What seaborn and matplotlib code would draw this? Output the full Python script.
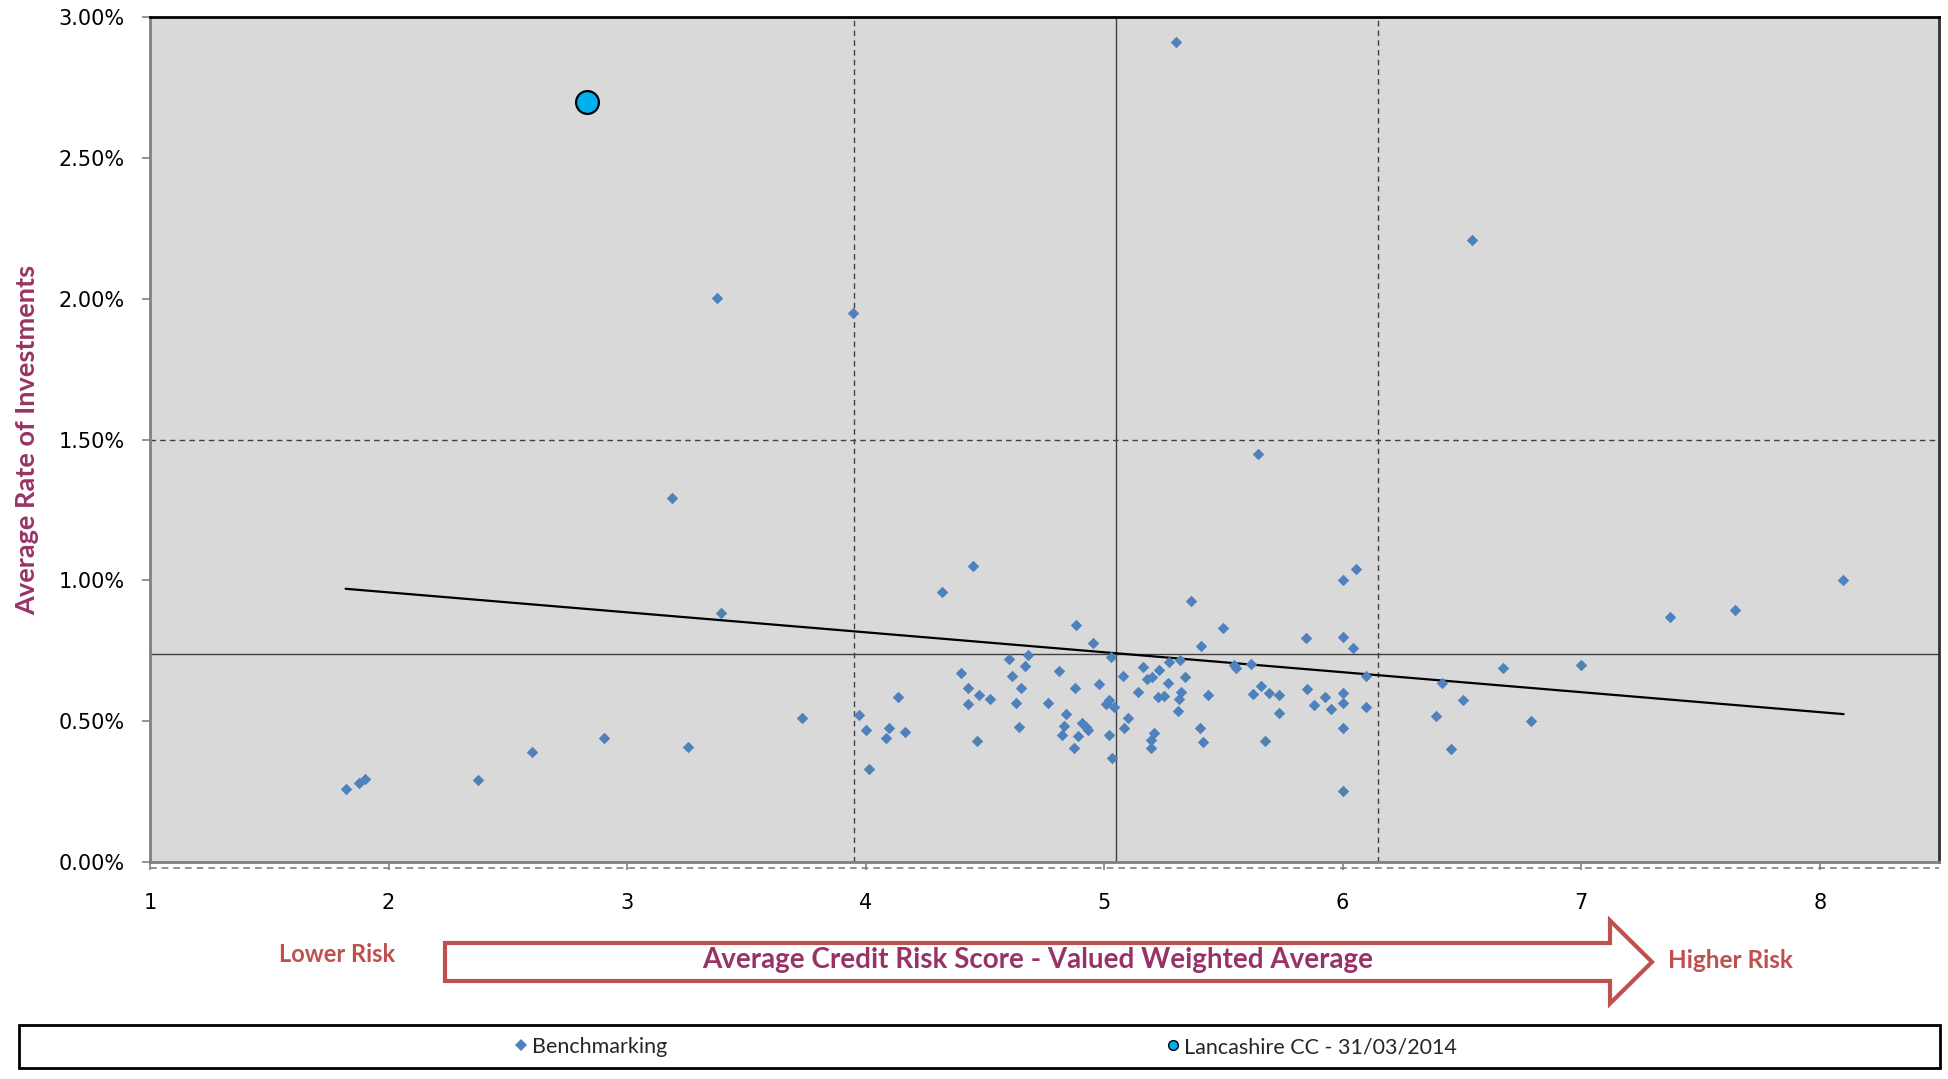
import matplotlib
matplotlib.use("Agg")
import matplotlib.pyplot as plt
import seaborn as sns
from matplotlib.patches import FancyArrow, Rectangle
from matplotlib.lines import Line2D
from matplotlib.ticker import FuncFormatter

# Benchmarking authorities: credit risk score (value weighted) vs average rate (%)
bench_score = [
    1.823, 1.875, 1.901, 2.377, 2.603, 2.904, 3.188, 3.256, 3.375, 3.393,
    3.732, 3.948, 3.971, 4.002, 4.013, 4.100, 4.086, 4.134, 4.164,
    4.449, 4.322, 4.400, 4.431, 4.431, 4.475, 4.466, 4.521, 4.603, 4.681,
    4.613, 4.670, 4.651, 4.632, 4.642, 4.765, 4.810, 4.883, 4.955, 4.877,
    4.842, 4.830, 4.825, 4.909, 4.922, 4.933, 4.892, 4.874, 4.980, 5.029,
    5.021, 5.007, 5.041, 5.022, 5.035, 5.081, 5.101, 5.082, 5.144, 5.165,
    5.179, 5.201, 5.232, 5.273, 5.320, 5.267, 5.341, 5.225, 5.253, 5.323,
    5.312, 5.310, 5.211, 5.196, 5.197, 5.366, 5.405, 5.500, 5.437, 5.402,
    5.415, 5.545, 5.552, 5.615, 5.656, 5.622, 5.692, 5.732, 5.732, 5.674,
    5.846, 5.851, 5.881, 5.925, 5.949, 6.002, 6.057, 6.002, 6.043, 6.002,
    6.002, 6.002, 6.002, 6.096, 6.096,
    6.415, 6.393, 6.505, 6.456, 6.672, 6.788, 7.000, 7.371, 7.645, 8.098,
    5.302, 6.542, 5.646,
]
bench_rate = [
    0.260, 0.282, 0.296, 0.291, 0.389, 0.440, 1.292, 0.407, 2.003, 0.883,
    0.511, 1.950, 0.521, 0.470, 0.330, 0.477, 0.442, 0.585, 0.462,
    1.051, 0.960, 0.670, 0.619, 0.561, 0.594, 0.431, 0.578, 0.721, 0.734,
    0.661, 0.696, 0.619, 0.563, 0.481, 0.563, 0.677, 0.843, 0.778, 0.619,
    0.527, 0.484, 0.450, 0.492, 0.478, 0.468, 0.447, 0.406, 0.633, 0.729,
    0.575, 0.561, 0.552, 0.450, 0.371, 0.661, 0.511, 0.475, 0.604, 0.691,
    0.649, 0.658, 0.682, 0.710, 0.717, 0.635, 0.657, 0.587, 0.591, 0.603,
    0.578, 0.536, 0.457, 0.433, 0.406, 0.928, 0.767, 0.831, 0.594, 0.475,
    0.427, 0.698, 0.690, 0.704, 0.625, 0.595, 0.601, 0.592, 0.529, 0.430,
    0.795, 0.613, 0.556, 0.587, 0.543, 1.000, 1.041, 0.800, 0.759, 0.599,
    0.565, 0.475, 0.251, 0.659, 0.549,
    0.637, 0.520, 0.574, 0.400, 0.690, 0.502, 0.701, 0.871, 0.895, 1.000,
    2.911, 2.210, 1.447,
]

# Lancashire County Council at 31/03/2014
lancs_score = [2.83]
lancs_rate = [2.70]

# Linear trend of the benchmarking group
trend_score = [1.82, 8.10]
trend_rate = [0.970, 0.525]

# Group average and one-deviation bands
score_mean = 5.05
score_band = [3.95, 6.15]
rate_mean = 0.74
rate_band = [1.50, -0.02]

x_ticks = [1, 2, 3, 4, 5, 6, 7, 8]
y_ticks = [0.0, 0.5, 1.0, 1.5, 2.0, 2.5, 3.0]

sns.set_theme(style="white")
plt.rcParams["font.family"] = ["DejaVu Sans"]
LABEL_FONT = ["Lato", "DejaVu Sans"]

W, H = 1948, 1079
fig = plt.figure(figsize=(W / 100, H / 100), dpi=100)
ax = fig.add_axes([150 / W, 1 - 862 / H, 1789 / W, 845 / H])
ax.set_facecolor("#D9D9D9")

ref_col = "#404040"
dash = (0, (4, 3))
for v in score_band:
    ax.axvline(v, color=ref_col, lw=1, ls=dash, zorder=1)
ax.axvline(score_mean, color=ref_col, lw=1, zorder=1)
ax.axhline(rate_band[0], color=ref_col, lw=1, ls=dash, zorder=1)
ax.axhline(rate_band[1], color="#808080", lw=1.2, ls=dash, zorder=1, clip_on=False)
ax.axhline(rate_mean, color=ref_col, lw=1, zorder=1)

sns.lineplot(x=trend_score, y=trend_rate, color="black", lw=1.6, ax=ax, zorder=3)
sns.scatterplot(x=bench_score, y=bench_rate, marker="D", s=34, color="#4F81BD",
                linewidth=0, ax=ax, zorder=4)
sns.scatterplot(x=lancs_score, y=lancs_rate, marker="o", s=270, color="#00B0F0",
                edgecolor="black", linewidth=1.6, ax=ax, zorder=5)

ax.set_xlim(1, 8.5)
ax.set_ylim(0, 3)
ax.set_xticks(x_ticks)
ax.set_yticks(y_ticks)
ax.yaxis.set_major_formatter(FuncFormatter(lambda v, _: f"{v:.2f}%"))
ax.tick_params(axis="both", which="major", direction="out", length=6, width=1.2,
               color="#808080", labelsize=15, labelcolor="black")
ax.tick_params(axis="x", pad=16, bottom=True)
ax.tick_params(axis="y", pad=12, left=True)
ax.set_xlabel("")

for side, col in [("left", "#808080"), ("bottom", "#808080"), ("top", "black"), ("right", "#303030")]:
    ax.spines[side].set_visible(True)
    ax.spines[side].set_color(col)
    ax.spines[side].set_linewidth(2)

ax.set_ylabel("Average Rate of Investments", fontsize=19.5, fontweight="bold",
              color="#993366", family=LABEL_FONT)
ax.yaxis.set_label_coords(-0.062, 0.5)

# Risk direction arrow below the axis
arrow = FancyArrow(445 / W, 1 - 962 / H, (1652 - 445) / W, 0, width=38 / H,
                   head_width=83 / H, head_length=42 / W, length_includes_head=True,
                   transform=fig.transFigure, facecolor="white", edgecolor="#C0504D",
                   linewidth=3, joinstyle="miter")
fig.add_artist(arrow)
fig.text(337 / W, 1 - 955 / H, "Lower Risk", ha="center", va="center", fontsize=17,
         fontweight="bold", color="#C0504D", family=LABEL_FONT)
fig.text(1730 / W, 1 - 960 / H, "Higher Risk", ha="center", va="center", fontsize=17.5,
         fontweight="bold", color="#C0504D", family=LABEL_FONT)
fig.text(1038 / W, 1 - 960 / H, "Average Credit Risk Score - Valued Weighted Average",
         ha="center", va="center", fontsize=20, fontweight="bold", color="#993366",
         family=LABEL_FONT)

# Legend strip
fig.add_artist(Rectangle((19 / W, 1 - 1068 / H), (1940 - 19) / W, 43 / H,
                         transform=fig.transFigure, fill=False, edgecolor="black", lw=2))
h_bench = Line2D([], [], marker="D", color="#4F81BD", ls="none", ms=6, mew=0)
h_lancs = Line2D([], [], marker="o", color="#00B0F0", mec="black", ls="none", ms=7, mew=1)
for h, lab, x0 in [(h_bench, "Benchmarking", 516), (h_lancs, "Lancashire CC - 31/03/2014", 1168)]:
    fig.legend(handles=[h], labels=[lab], loc="center left",
               bbox_to_anchor=(x0 / W, 1 - 1047 / H), frameon=False,
               prop=dict(family=LABEL_FONT, size=15.5),
               handlelength=0.5, handletextpad=0.25, borderpad=0, borderaxespad=0)

fig.savefig("out.png", dpi=100)
